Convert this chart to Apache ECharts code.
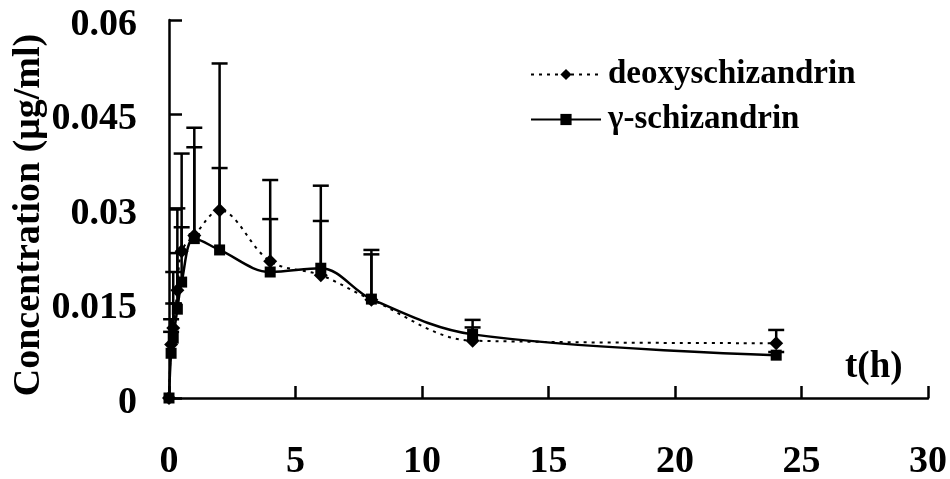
<!DOCTYPE html>
<html>
<head>
<meta charset="utf-8">
<script src="https://cdn.jsdelivr.net/npm/echarts@6/dist/echarts.min.js"></script>
<style>
html,body{margin:0;padding:0;background:#fff;}
#chart{width:950px;height:479px;}
</style>
</head>
<body>
<div id="chart"></div>
<script>
const times = [0, 0.083, 0.167, 0.33, 0.5, 1, 2, 4, 6, 8, 12, 24];
const deoxyMean  = [0, 0.0085, 0.0111, 0.0171, 0.0233, 0.0258, 0.0298, 0.0217, 0.0195, 0.0156, 0.0091, 0.0087];
const deoxyUpper = [0, 0.0125, 0.0200, 0.0301, 0.0388, 0.0429, 0.0531, 0.0346, 0.0337, 0.0235, 0.0124, 0.0108];
const gammaMean  = [0, 0.0071, 0.0095, 0.0141, 0.0184, 0.0253, 0.0235, 0.0200, 0.0206, 0.0157, 0.0101, 0.0068];
const gammaUpper = [0, 0.0105, 0.0150, 0.0230, 0.0271, 0.0398, 0.0365, 0.0284, 0.0281, 0.0228, 0.0112, 0.0073];
const xTickLabels = ['0', '5', '10', '15', '20', '25', '30'];
const yTickLabels = ['0', '0.015', '0.03', '0.045', '0.06'];
const seriesNames = ['deoxyschizandrin', 'γ-schizandrin'];
const xAxisTitle = 't(h)';
const yAxisTitle = 'Concentration (μg/ml)';

const FONT = "'Liberation Serif', 'Times New Roman', serif";
const chart = echarts.init(document.getElementById('chart'));

function errRender(params, api) {
  const x = api.value(0), m = api.value(1), top = api.value(2);
  if (top <= m) return null;
  const p0 = api.coord([x, m]);
  const p1 = api.coord([x, top]);
  const st = { stroke: '#000', lineWidth: 2.5 };
  return {
    type: 'group',
    children: [
      { type: 'line', shape: { x1: p0[0], y1: p0[1], x2: p1[0], y2: p1[1] }, style: st },
      { type: 'line', shape: { x1: p1[0] - 8, y1: p1[1], x2: p1[0] + 8, y2: p1[1] }, style: st }
    ]
  };
}

const zip = (a) => times.map((t, i) => [t, a[i]]);
const zip3 = (a, b) => times.map((t, i) => [t, a[i], b[i]]);

chart.setOption({
  animation: false,
  backgroundColor: '#fff',
  grid: { left: 169, right: 22, top: 20, bottom: 81, containLabel: false, outerBoundsMode: 'none' },
  legend: {
    orient: 'vertical',
    left: 525,
    top: 53,
    itemWidth: 70,
    itemHeight: 14,
    itemGap: 12,
    data: seriesNames,
    textStyle: { fontFamily: FONT, fontWeight: 'bold', fontSize: 33, color: '#000', padding: [0, 0, 0, 2] }
  },
  xAxis: {
    type: 'value',
    min: 0, max: 30, interval: 5,
    axisLine: { lineStyle: { color: '#000', width: 2.5 } },
    axisTick: { inside: true, length: 12, lineStyle: { color: '#000', width: 2.5 } },
    splitLine: { show: false },
    axisLabel: {
      margin: 45,
      fontFamily: FONT, fontWeight: 'bold', fontSize: 38, color: '#000',
      formatter: (v, i) => xTickLabels[i]
    }
  },
  yAxis: {
    type: 'value',
    min: 0, max: 0.06, interval: 0.015,
    axisLine: { lineStyle: { color: '#000', width: 2.5 } },
    axisTick: { inside: true, length: 13, lineStyle: { color: '#000', width: 2.5 } },
    splitLine: { show: false },
    axisLabel: {
      margin: 32,
      fontFamily: FONT, fontWeight: 'bold', fontSize: 38, color: '#000',
      formatter: (v, i) => '{a|' + yTickLabels[i] + '}',
      rich: { a: { fontFamily: FONT, fontWeight: 'bold', fontSize: 38, color: '#000', padding: [10, 0, 0, 0] } }
    }
  },
  graphic: [
    {
      type: 'text',
      left: 845, top: 349,
      style: { text: xAxisTitle, fontFamily: FONT, fontWeight: 'bold', fontSize: 37, fill: '#000' }
    },
    {
      type: 'text',
      x: 29, y: 215,
      rotation: Math.PI / 2,
      style: {
        text: yAxisTitle, fontFamily: FONT, fontWeight: 'bold', fontSize: 38, fill: '#000',
        align: 'center', verticalAlign: 'middle'
      }
    }
  ],
  series: [
    {
      name: 'err1', type: 'custom', renderItem: errRender, data: zip3(deoxyMean, deoxyUpper),
      encode: { x: 0, y: [1, 2] }, z: 1, silent: true
    },
    {
      name: 'err2', type: 'custom', renderItem: errRender, data: zip3(gammaMean, gammaUpper),
      encode: { x: 0, y: [1, 2] }, z: 1, silent: true
    },
    {
      name: seriesNames[0], type: 'line', data: zip(deoxyMean), smooth: 0.35,
      symbol: 'diamond', symbolSize: 14,
      lineStyle: { color: '#000', width: 2, type: [3, 5] },
      itemStyle: { color: '#000' }, z: 3
    },
    {
      name: seriesNames[1], type: 'line', data: zip(gammaMean), smooth: 0.35,
      symbol: 'rect', symbolSize: 11,
      lineStyle: { color: '#000', width: 2.5, type: 'solid' },
      itemStyle: { color: '#000' }, z: 4
    }
  ]
});
</script>
</body>
</html>
